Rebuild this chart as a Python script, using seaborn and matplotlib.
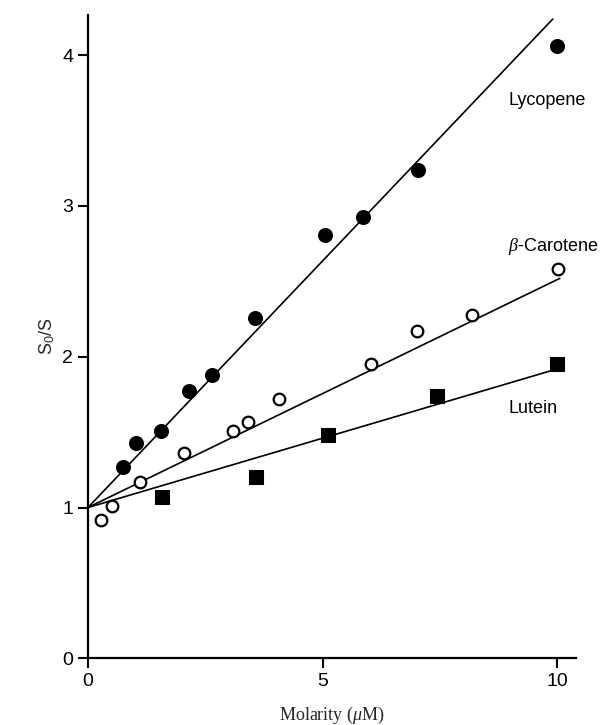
import matplotlib
matplotlib.use("Agg")
import matplotlib.pyplot as plt
import seaborn as sns

lyco_x = [0.75, 1.02, 1.55, 2.15, 2.65, 3.55, 5.05, 5.85, 7.02, 10.0]
lyco_y = [1.27, 1.43, 1.51, 1.77, 1.88, 2.26, 2.81, 2.93, 3.24, 4.06]

beta_x = [0.28, 0.52, 1.1, 2.05, 3.1, 3.4, 4.07, 6.02, 7.0, 8.17, 10.02]
beta_y = [0.92, 1.01, 1.17, 1.36, 1.51, 1.57, 1.72, 1.95, 2.17, 2.28, 2.58]

lut_x = [1.57, 3.57, 5.12, 7.44, 10.0]
lut_y = [1.07, 1.20, 1.48, 1.74, 1.95]

# fitted lines (start and end)
lyco_fit_x = [0, 9.9]
lyco_fit_y = [1.0, 4.24]
beta_fit_x = [0, 10.05]
beta_fit_y = [1.0, 2.52]
lut_fit_x = [0, 10.0]
lut_fit_y = [1.0, 1.92]

x_ticks = [0, 5, 10]
y_ticks = [0, 1, 2, 3, 4]

sns.set_style("ticks")
plt.rcParams['font.family'] = ['Liberation Sans', 'DejaVu Sans']
plt.rcParams['mathtext.fontset'] = 'custom'
plt.rcParams['mathtext.it'] = 'Liberation Serif:italic'
plt.rcParams['mathtext.rm'] = 'Liberation Sans'

fig = plt.figure(figsize=(6.15, 7.25), dpi=100)
ax = fig.add_axes([0.143, 0.092, 0.794, 0.888])

for fx, fy in [(lyco_fit_x, lyco_fit_y), (beta_fit_x, beta_fit_y), (lut_fit_x, lut_fit_y)]:
    sns.lineplot(x=fx, y=fy, ax=ax, color="black", linewidth=1.2, estimator=None)

sns.scatterplot(x=lyco_x, y=lyco_y, ax=ax, marker="o", s=100, color="black",
                edgecolor="black", zorder=3)
sns.scatterplot(x=beta_x, y=beta_y, ax=ax, marker="o", s=70, facecolor="white",
                edgecolor="black", linewidth=1.6, zorder=3)
sns.scatterplot(x=lut_x, y=lut_y, ax=ax, marker="s", s=92, color="black",
                edgecolor="black", zorder=3)

ax.text(8.95, 3.70, "Lycopene", fontsize=13, va="center", ha="left", color="black")
ax.text(8.95, 2.73, r"$\beta$-Carotene", fontsize=13, va="center", ha="left", color="black")
ax.text(8.95, 1.66, "Lutein", fontsize=13, va="center", ha="left", color="black")

ax.set_xlim(0, 10.4)
ax.set_ylim(0, 4.27)
ax.set_xticks(x_ticks)
ax.set_yticks(y_ticks)
ax.tick_params(direction="out", length=7, width=1.5, labelsize=14, pad=3.5,
               colors="black")
for s in ["left", "bottom"]:
    ax.spines[s].set_linewidth(1.6)
    ax.spines[s].set_color("black")
sns.despine(ax=ax)

ax.set_xlabel(r"Molarity ($\mu$M)", fontsize=13, family="Liberation Serif", labelpad=11)
ax.set_ylabel(r"S$_0$/S", fontsize=13, labelpad=4)

fig.savefig("out.png", dpi=100)
